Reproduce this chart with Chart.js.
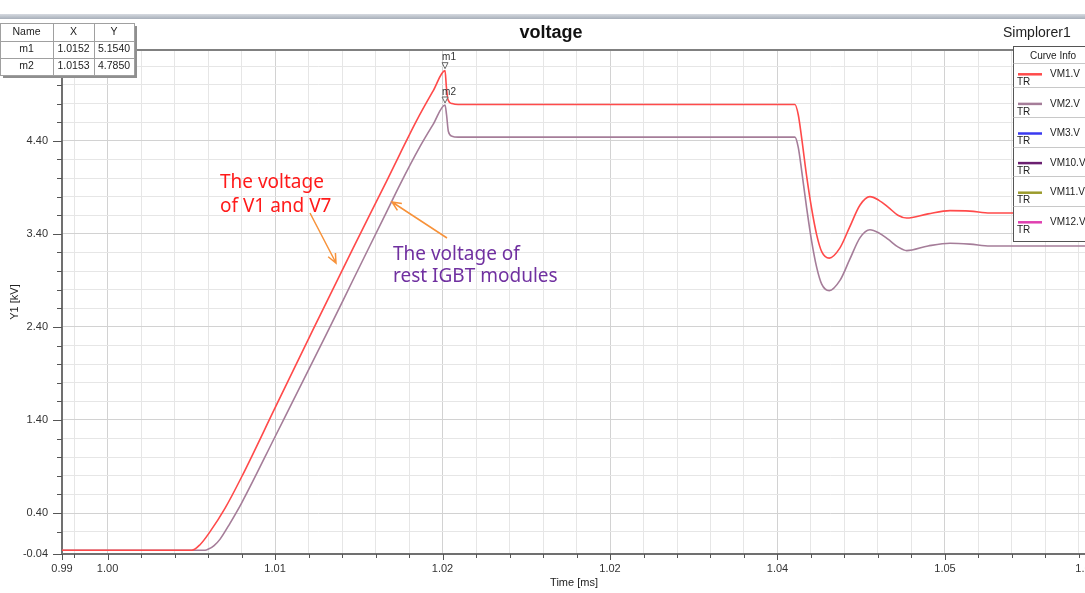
<!DOCTYPE html>
<html>
<head>
<meta charset="utf-8">
<title>voltage</title>
<script src="https://cdn.jsdelivr.net/npm/chart.js@4.4.1/dist/chart.umd.min.js"></script>
<style>
  html, body { margin: 0; padding: 0; background: #fff; overflow: hidden; }
  #wrap { width: 1100px; height: 593px; }
</style>
</head>
<body>
<div id="wrap"><canvas id="chart" width="1100" height="593"></canvas></div>
<script>
// x axis (Time [ms]) - labels copied as printed on the plot
var xMin = 0.99728, xMax = 1.05842;
var xLabelValues = [0.99728, 1.00, 1.01, 1.02, 1.03, 1.04, 1.05, 1.05842];
var xLabelTexts  = ['0.99', '1.00', '1.01', '1.02', '1.02', '1.04', '1.05', '1.06'];

// y axis (Y1 [kV])
var yMin = -0.04, yMax = 5.376;
var yLabelValues = [-0.04, 0.4, 1.4, 2.4, 3.4, 4.4];
var yLabelTexts  = ['-0.04', '0.40', '1.40', '2.40', '3.40', '4.40'];

// VM1.V : voltage of V1 and V7
var timeVM1 = [0.99728, 1.00503, 1.00552, 1.00612, 1.00701, 1.00801, 1.01000, 1.01229, 1.01467, 1.01667,
               1.01746, 1.01846, 1.01945, 1.02015, 1.02023, 1.02033, 1.02057, 1.02093, 1.04104, 1.04124,
               1.04145, 1.04174, 1.04204, 1.04234, 1.04264, 1.04309, 1.04373, 1.04430, 1.04493, 1.04552,
               1.04606, 1.04662, 1.04719, 1.04771, 1.04899, 1.05030, 1.05149, 1.05269, 1.05408, 1.05842];
var voltVM1 = [0, 0, 0.06, 0.20, 0.45, 0.79, 1.53, 2.38, 3.25, 3.97,
               4.26, 4.62, 4.94, 5.154, 4.98, 4.84, 4.80, 4.79, 4.79, 4.68,
               4.42, 4.02, 3.67, 3.39, 3.21, 3.14, 3.25, 3.47, 3.71, 3.80,
               3.76, 3.685, 3.60, 3.57, 3.615, 3.65, 3.645, 3.625, 3.625, 3.62];

// VM2.V : voltage of the rest IGBT modules
var timeVM2 = [0.99728, 1.00582, 1.00600, 1.00636, 1.00672, 1.00731, 1.00801, 1.01000, 1.01309, 1.01467,
               1.01667, 1.01746, 1.01866, 1.01945, 1.02015, 1.02024, 1.02035, 1.02057, 1.02093, 1.04104,
               1.04124, 1.04145, 1.04174, 1.04204, 1.04234, 1.04264, 1.04309, 1.04373, 1.04430, 1.04493,
               1.04552, 1.04606, 1.04662, 1.04719, 1.04771, 1.04899, 1.05030, 1.05149, 1.05269, 1.05408,
               1.05842];
var voltVM2 = [0, 0, 0.01, 0.05, 0.12, 0.29, 0.51, 1.22, 2.33, 2.91,
               3.64, 3.93, 4.34, 4.58, 4.785, 4.68, 4.50, 4.45, 4.44, 4.44,
               4.33, 4.07, 3.68, 3.32, 3.04, 2.86, 2.79, 2.90, 3.12, 3.36,
               3.445, 3.41, 3.34, 3.26, 3.22, 3.27, 3.30, 3.29, 3.27, 3.27,
               3.27];

// curve info legend
var curveNames  = ['VM1.V', 'VM2.V', 'VM3.V', 'VM10.V', 'VM11.V', 'VM12.V'];
var curveColors = ['#ff4a4a', '#a57d99', '#3a3af0', '#6b1f70', '#9b9b2c', '#e040b0'];

// markers table
var markerNames = ['m1', 'm2'];
var markerTime  = [1.02015, 1.02015];
var markerVolt  = [5.154, 4.785];
var markerXText = ['1.0152', '1.0153'];
var markerYText = ['5.1540', '4.7850'];

function toPoints(xs, ys) {
    return xs.map(function (x, i) { return {x: x, y: ys[i]}; });
}
function labelFor(values, texts, v) {
    for (var i = 0; i < values.length; i++) {
        if (Math.abs(values[i] - v) < 1e-7) return texts[i];
    }
    return '';
}

var axisFont = {family: '"Liberation Sans", Arial, sans-serif', size: 11};

    //draws title, table, legend box, markers, annotations and tick marks
var decorations = {
    id: 'decorations',
    afterDraw: function (chart) {
        var ctx = chart.ctx, area = chart.chartArea;
        var xs = chart.scales.x, ys = chart.scales.y;
        var W = chart.width;
        ctx.save();

        // tick marks (major longer)
        ctx.strokeStyle = '#555';
        ctx.lineWidth = 1;
        xs.ticks.forEach(function (t) {
            var px = Math.round(xs.getPixelForValue(t.value)) + 0.5;
            var len = t.label ? 6 : 4;
            ctx.beginPath(); ctx.moveTo(px, area.bottom); ctx.lineTo(px, area.bottom + len); ctx.stroke();
        });
        ys.ticks.forEach(function (t) {
            var py = Math.round(ys.getPixelForValue(t.value)) + 0.5;
            var len = t.label ? 9 : 5;
            ctx.beginPath(); ctx.moveTo(area.left, py); ctx.lineTo(area.left - len, py); ctx.stroke();
        });

        // header band + top frame line
        var g = ctx.createLinearGradient(0, 14, 0, 20);
        g.addColorStop(0, '#d6dae0');
        g.addColorStop(1, '#9ea6b2');
        ctx.fillStyle = g;
        ctx.fillRect(0, 14, W, 5);
        ctx.fillStyle = '#808080';
        ctx.fillRect(0, 49, W, 2);

        // title
        ctx.fillStyle = '#111';
        ctx.textBaseline = 'middle';
        ctx.textAlign = 'center';
        ctx.font = 'bold 18px "Liberation Sans", Arial, sans-serif';
        ctx.fillText('voltage', 551, 33);
        ctx.textAlign = 'left';
        ctx.font = '14px "Liberation Sans", Arial, sans-serif';
        ctx.fillStyle = '#222';
        ctx.fillText('Simplorer1', 1003, 33);

        // markers
        ctx.font = '10px "Liberation Sans", Arial, sans-serif';
        for (var m = 0; m < markerNames.length; m++) {
            var mx = xs.getPixelForValue(markerTime[m]);
            var my = ys.getPixelForValue(markerVolt[m]);
            ctx.beginPath();
            ctx.moveTo(mx - 3, my - 8);
            ctx.lineTo(mx + 3, my - 8);
            ctx.lineTo(mx, my - 2);
            ctx.closePath();
            ctx.fillStyle = '#fff';
            ctx.fill();
            ctx.strokeStyle = '#666';
            ctx.stroke();
            ctx.fillStyle = '#333';
            ctx.textAlign = 'center';
            ctx.fillText(markerNames[m], mx + 4, my - 13);
        }

        // marker table (with shadow)
        var colX = [0, 53, 94, 134];
        var rowY = [23, 41, 58, 75];
        ctx.fillStyle = '#8f8f8f';
        ctx.fillRect(3, 26, 134, 52);
        ctx.fillStyle = '#fff';
        ctx.fillRect(0, 23, 134, 52);
        ctx.strokeStyle = '#a0a0a0';
        ctx.lineWidth = 1;
        colX.forEach(function (x) {
            ctx.beginPath(); ctx.moveTo(x + 0.5, rowY[0]); ctx.lineTo(x + 0.5, rowY[3]); ctx.stroke();
        });
        rowY.forEach(function (y) {
            ctx.beginPath(); ctx.moveTo(0, y + 0.5); ctx.lineTo(134, y + 0.5); ctx.stroke();
        });
        ctx.fillStyle = '#222';
        ctx.font = '10.5px "Liberation Sans", Arial, sans-serif';
        ctx.textAlign = 'center';
        var head = ['Name', 'X', 'Y'];
        for (var c = 0; c < 3; c++) {
            ctx.fillText(head[c], (colX[c] + colX[c + 1]) / 2, (rowY[0] + rowY[1]) / 2);
        }
        for (var r = 0; r < markerNames.length; r++) {
            var cy = (rowY[r + 1] + rowY[r + 2]) / 2;
            ctx.fillText(markerNames[r], (colX[0] + colX[1]) / 2, cy);
            ctx.fillText(markerXText[r], (colX[1] + colX[2]) / 2, cy);
            ctx.fillText(markerYText[r], (colX[2] + colX[3]) / 2, cy);
        }

        // curve info box
        var bx = 1013.5, by = 46.5;
        ctx.fillStyle = '#fff';
        ctx.fillRect(bx, by, 120, 195);
        ctx.strokeStyle = '#555';
        ctx.strokeRect(bx, by, 120, 195);
        ctx.fillStyle = '#222';
        ctx.font = '10px "Liberation Sans", Arial, sans-serif';
        ctx.fillText('Curve Info', 1053, 56.5);
        ctx.strokeStyle = '#c8c8c8';
        ctx.beginPath(); ctx.moveTo(bx, 63.5); ctx.lineTo(W, 63.5); ctx.stroke();
        for (var k = 0; k < curveNames.length; k++) {
            var ly = 74.3 + k * 29.6;
            ctx.strokeStyle = curveColors[k];
            ctx.lineWidth = 2.5;
            ctx.beginPath(); ctx.moveTo(1018, ly); ctx.lineTo(1042, ly); ctx.stroke();
            ctx.fillStyle = '#222';
            ctx.textAlign = 'left';
            ctx.font = '10px "Liberation Sans", Arial, sans-serif';
            ctx.fillText(curveNames[k], 1050, ly);
            ctx.fillText('TR', 1017, ly + 8);
            if (k < curveNames.length - 1) {
                ctx.strokeStyle = '#c8c8c8';
                ctx.lineWidth = 1;
                ctx.beginPath(); ctx.moveTo(bx, Math.round(ly + 13) + 0.5); ctx.lineTo(W, Math.round(ly + 13) + 0.5); ctx.stroke();
            }
        }

        // annotations
        ctx.font = '19px "Noto Sans", sans-serif';
        ctx.textAlign = 'left';
        ctx.fillStyle = '#ff1a1a';
        ctx.fillText('The voltage', 220, 183);
        ctx.fillText('of V1 and V7', 220, 207);
        ctx.fillStyle = '#7030a0';
        ctx.fillText('The voltage of', 393, 255);
        ctx.fillText('rest IGBT modules', 393, 277);

        ctx.strokeStyle = '#f7923a';
        ctx.lineWidth = 1.5;
        arrow(ctx, 310, 213, 336, 263);
        arrow(ctx, 447, 238, 392, 202);

        ctx.restore();
    }
};

function arrow(ctx, x1, y1, x2, y2) {
    var a = Math.atan2(y2 - y1, x2 - x1), h = 10;
    ctx.beginPath();
    ctx.moveTo(x1, y1); ctx.lineTo(x2, y2);
    ctx.moveTo(x2 - h * Math.cos(a - 0.42), y2 - h * Math.sin(a - 0.42));
    ctx.lineTo(x2, y2);
    ctx.lineTo(x2 - h * Math.cos(a + 0.42), y2 - h * Math.sin(a + 0.42));
    ctx.stroke();
}

var chartData = {
    type: 'line',
    data: {
        datasets: [{
            label: curveNames[0],
            data: toPoints(timeVM1, voltVM1),
            borderColor: curveColors[0],
            borderWidth: 1.6,
            pointRadius: 0,
            cubicInterpolationMode: 'monotone',
            fill: false
        }, {
            label: curveNames[1],
            data: toPoints(timeVM2, voltVM2),
            borderColor: curveColors[1],
            borderWidth: 1.6,
            pointRadius: 0,
            cubicInterpolationMode: 'monotone',
            fill: false
        }]
    },
    options: {
        responsive: false,
        animation: false,
        layout: {padding: {top: 50, right: 14, left: 0, bottom: 0}},
        plugins: {legend: {display: false}, tooltip: {enabled: false}},
        scales: {
            x: {
                type: 'linear',
                min: xMin,
                max: xMax,
                afterBuildTicks: function (scale) {
                    var vals = [xMin];
                    for (var i = 998; i <= 1058; i += 2) vals.push(i / 1000);
                    vals.push(xMax);
                    scale.ticks = vals.map(function (v) { return {value: v}; });
                },
                afterFit: function (scale) {
                    scale.height = 39;
                    scale.paddingLeft = 0;
                    scale.paddingRight = 0;
                },
                ticks: {
                    autoSkip: false, maxRotation: 0, minRotation: 0,
                    padding: 8, color: '#333', font: axisFont,
                    callback: function (v) { return labelFor(xLabelValues, xLabelTexts, v); }
                },
                grid: {
                    drawTicks: false,
                    color: function (c) { return c.tick && c.tick.label ? '#d2d2d2' : '#e6e6e6'; }
                },
                border: {color: '#707070', width: 2},
                title: {display: true, text: 'Time [ms]', color: '#222', font: axisFont, padding: {top: 0, bottom: 3}}
            },
            y: {
                min: yMin,
                max: yMax,
                afterBuildTicks: function (scale) {
                    var vals = [yMin];
                    for (var i = 2; i <= 52; i += 2) vals.push(i / 10);
                    scale.ticks = vals.map(function (v) { return {value: v}; });
                },
                afterFit: function (scale) {
                    scale.width = 62;
                    scale.paddingTop = 0;
                    scale.paddingBottom = 0;
                },
                ticks: {
                    autoSkip: false, padding: 14, color: '#333', font: axisFont,
                    callback: function (v) { return labelFor(yLabelValues, yLabelTexts, v); }
                },
                grid: {
                    drawTicks: false,
                    color: function (c) { return c.tick && c.tick.label ? '#d2d2d2' : '#e6e6e6'; }
                },
                border: {color: '#707070', width: 2},
                title: {display: true, text: 'Y1 [kV]', color: '#222', font: axisFont, padding: {top: 8, bottom: 0}}
            }
        }
    },
    plugins: [decorations]
};

var ctx = document.getElementById('chart');
var chart = new Chart(ctx, chartData);
</script>
</body>
</html>
